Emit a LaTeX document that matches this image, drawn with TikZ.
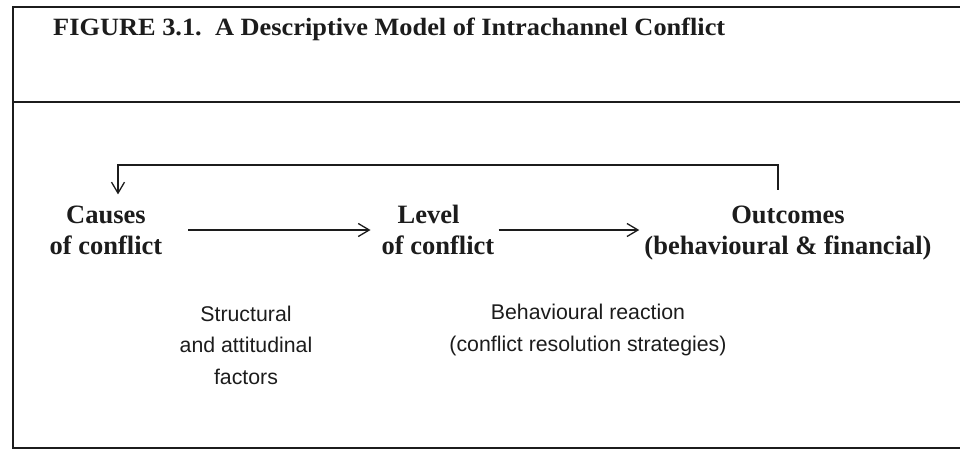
\documentclass[tikz,border=0pt]{standalone}
\usepackage{fontspec}
\setmainfont{Liberation Serif}
\setsansfont{Liberation Sans}
\usetikzlibrary{arrows.meta}
\definecolor{ink}{HTML}{1C1C1C}
\tikzset{
  frameline/.style={draw=ink, line width=2.2pt},
  heading/.style={inner sep=0pt, anchor=base west, text=ink, font=\bfseries\fontsize{22.7}{26}\selectfont},
  stage/.style={inner sep=0pt, align=center, text=ink, font=\bfseries\fontsize{26.5}{31}\selectfont},
  factor/.style={inner sep=0pt, align=center, text=ink, font=\sffamily\fontsize{21.3}{31.5}\selectfont},
  flow/.style={draw=ink, line width=1.5pt, -{Straight Barb[length=11pt,width=13pt,line width=1.3pt]}},
}
\begin{document}
\begin{tikzpicture}[x=1pt,y=-1pt]
\useasboundingbox (0,0) rectangle (960,450);
% outer frame with the heading band
\draw[frameline] (960,7) -- (13,7) -- (13,448) -- (960,448);
\draw[frameline] (13,102) -- (960,102);
\node[heading] (title) at (53,35) {\resizebox{672pt}{17.5pt}{FIGURE 3.1.\ \ A Descriptive Model of Intrachannel Conflict}};

% the three stages
\node[stage] (causes) at (106,230) {Causes\\of conflict};
\node[stage, align=left] (level) at (438,230) {\hspace{16pt}Level\\of conflict};
\node[stage] (outcomes) at (788,233) {Outcomes\\(behavioural \& financial)};

% explanatory notes under the links
\node[factor] (struct) at (246,345) {Structural\\and attitudinal\\factors};
\node[factor] (behav) at (588,330) {Behavioural reaction\\(conflict resolution strategies)};

% forward links
\draw[flow, shorten <=26pt, shorten >=11pt] (causes.east) -- (causes.east -| level.west);
\draw[flow, shorten <=4pt, shorten >=5pt] (level.east) -- (level.east -| outcomes.west);

% feedback loop from outcomes back to causes
\coordinate (fbR) at (778,165);
\coordinate (fbL) at (118,165);
\draw[flow, shorten <=16pt, shorten >=11pt] (outcomes.north -| fbR) -- (fbR) -- (fbL) -- (causes.north -| fbL);
\end{tikzpicture}
\end{document}
